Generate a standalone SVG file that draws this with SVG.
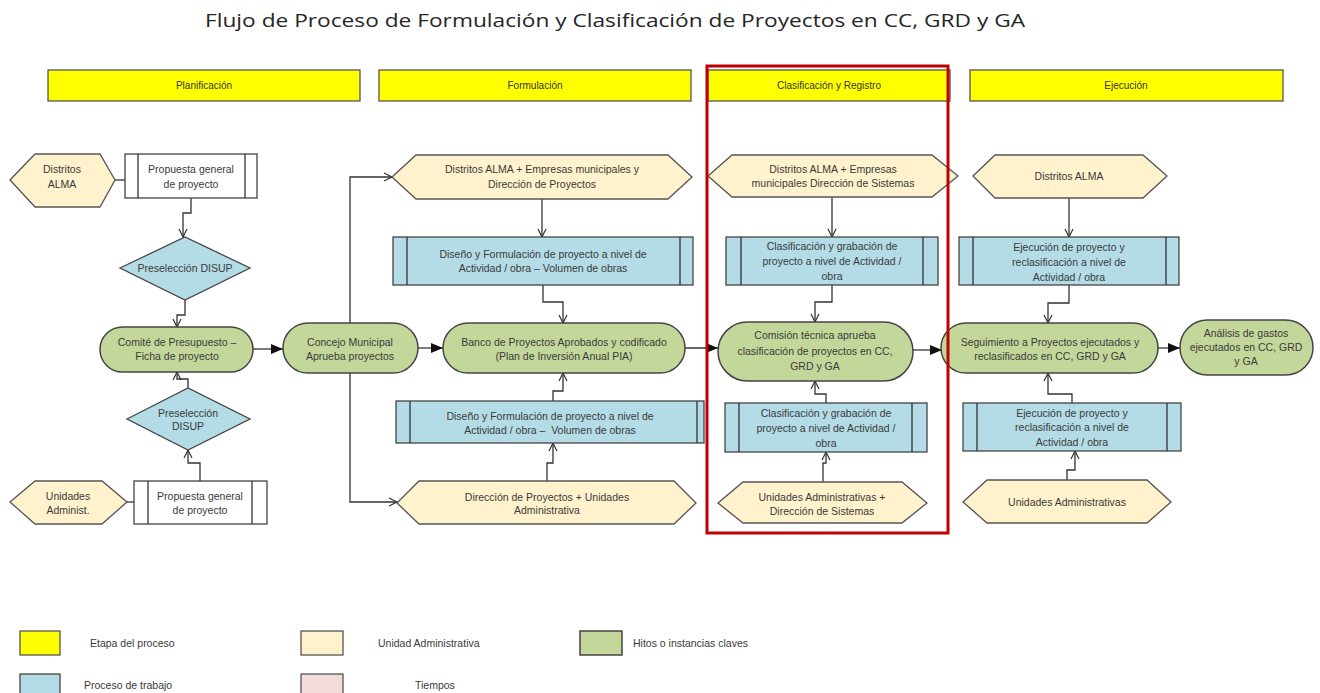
<svg xmlns="http://www.w3.org/2000/svg" width="1320" height="693" viewBox="0 0 1320 693">
<style>
text{font-family:"Liberation Sans",Arial,sans-serif;font-size:10.5px;fill:#3a3a3a;text-anchor:middle}
.title{font-family:"Open Sans","Liberation Sans",sans-serif;font-size:19px;fill:#262626}
.hdr{font-size:10px;fill:#333}
.leg{font-size:10.5px;text-anchor:start}
.stage{fill:#FFFF00;stroke:#555;stroke-width:1.3}
.unit{fill:#FFF2CC;stroke:#555;stroke-width:1.3}
.mile{fill:#C4D79B;stroke:#444;stroke-width:1.5}
.proc{fill:#B4DCE6;stroke:#444;stroke-width:1.3}
.white{fill:#fff;stroke:#444;stroke-width:1.3}
.pink{fill:#F2DCDB;stroke:#555;stroke-width:1.3}
.inner{stroke:#333;stroke-width:1.3;fill:none}
.con{fill:none;stroke:#333;stroke-width:1.3}
.o{marker-end:url(#open)}
.f{marker-end:url(#fill)}
</style>
<defs>
<marker id="open" markerWidth="12" markerHeight="12" refX="9" refY="5" orient="auto" markerUnits="userSpaceOnUse">
<path d="M1,1 L9,5 L1,9" fill="none" stroke="#333" stroke-width="1.2"/>
</marker>
<marker id="fill" markerWidth="14" markerHeight="12" refX="12" refY="5" orient="auto" markerUnits="userSpaceOnUse">
<path d="M0,0 L12,5 L0,10 z" fill="#111"/>
</marker>
</defs>
<rect width="1320" height="693" fill="#fff"/>
<text class="title" x="615" y="27" textLength="820" lengthAdjust="spacingAndGlyphs">Flujo de Proceso de Formulación y Clasificación de Proyectos en CC, GRD y GA</text>

<g id="stages">
<g id="st-plan"><rect class="stage" x="48" y="70" width="312" height="31"/><text class="hdr" x="204" y="89">Planificación</text></g>
<g id="st-form"><rect class="stage" x="379" y="70" width="312" height="31"/><text class="hdr" x="535" y="89">Formulación</text></g>
<g id="st-clas"><rect class="stage" x="708" y="70" width="242" height="31"/><text class="hdr" x="829" y="89">Clasificación y Registro</text></g>
<g id="st-ejec"><rect class="stage" x="970" y="70" width="313" height="31"/><text class="hdr" x="1126" y="89">Ejecución</text></g>
</g>

<g id="connectors">
<path class="con" d="M115,180 H125"/>
<path class="con o" d="M191,198 V213 H183 V237"/>
<path class="con o" d="M185,300 V315 H177 V327"/>
<path class="con f" d="M253,349 H283"/>
<path class="con o" d="M200,481 V463 H188 V450"/>
<path class="con o" d="M188,388 V379 H177 V372"/>
<path class="con" d="M127,502 H134"/>
<path class="con o" d="M350,323 V177 H392"/>
<path class="con o" d="M350,373 V502 H397"/>
<path class="con f" d="M418,348 H443"/>
<path class="con o" d="M542,199 V237"/>
<path class="con o" d="M543,285 V302 H563 V323"/>
<path class="con o" d="M547,481 V463 H553 V443"/>
<path class="con o" d="M553,401 V391 H563 V373"/>
<path class="con f" d="M685,348 H718"/>
<path class="con o" d="M832,197 V237"/>
<path class="con o" d="M832,285 V302 H815 V322"/>
<path class="con o" d="M826,403 V394 H815 V381"/>
<path class="con o" d="M823,482 V463 H826 V452"/>
<path class="con f" d="M913,350 H942"/>
<path class="con o" d="M1069,198 V237"/>
<path class="con o" d="M1069,285 V303 H1048 V323"/>
<path class="con o" d="M1072,403 V394 H1048 V373"/>
<path class="con o" d="M1067,480 V470 H1075 V451"/>
<path class="con f" d="M1158,348 H1180"/>
</g>

<g id="n-distritos-alma-1"><polygon class="unit" points="10,180 35,154 100,154 115,180 100,207 35,207"/><text x="62" y="173">Distritos</text><text x="62" y="188">ALMA</text></g>
<g id="n-propuesta-1"><rect class="white" x="125" y="154" width="132" height="44"/><path class="inner" d="M138,154 V198 M245,154 V198"/><text x="191" y="173">Propuesta general</text><text x="191" y="188">de proyecto</text></g>
<g id="n-preseleccion-1"><polygon class="proc" points="120,268 185,237 250,268 185,300"/><text x="185" y="272">Preselección DISUP</text></g>
<g id="n-comite"><rect class="mile" x="100" y="327" width="153" height="45" rx="22.5"/><text x="177" y="346">Comité de Presupuesto –</text><text x="177" y="360">Ficha de proyecto</text></g>
<g id="n-preseleccion-2"><polygon class="proc" points="127,419 188,388 250,419 188,450"/><text x="188" y="417">Preselección</text><text x="188" y="430">DISUP</text></g>
<g id="n-propuesta-2"><rect class="white" x="134" y="481" width="133" height="43"/><path class="inner" d="M148,481 V524 M252,481 V524"/><text x="200" y="500">Propuesta general</text><text x="200" y="514">de proyecto</text></g>
<g id="n-unidades-admin"><polygon class="unit" points="10,502 35,481 102,481 127,502 102,524 35,524"/><text x="68" y="500">Unidades</text><text x="68" y="514">Administ.</text></g>

<g id="n-concejo"><rect class="mile" x="283" y="323" width="135" height="50" rx="25"/><text x="350" y="346">Concejo Municipal</text><text x="350" y="360">Aprueba proyectos</text></g>
<g id="n-distritos-emp"><polygon class="unit" points="392,177 416,155 668,155 692,177 668,199 416,199"/><text x="542" y="173">Distritos ALMA + Empresas municipales y</text><text x="542" y="188">Dirección de Proyectos</text></g>
<g id="n-diseno-1"><rect class="proc" x="393" y="237" width="300" height="48"/><path class="inner" d="M407,237 V285 M680,237 V285"/><text x="543" y="258">Diseño y Formulación de proyecto a nivel de</text><text x="543" y="272">Actividad / obra – Volumen de obras</text></g>
<g id="n-banco"><rect class="mile" x="443" y="323" width="242" height="50" rx="25"/><text x="564" y="346">Banco de Proyectos Aprobados y codificado</text><text x="564" y="360">(Plan de Inversión Anual PIA)</text></g>
<g id="n-diseno-2"><rect class="proc" x="396" y="401" width="308" height="42"/><path class="inner" d="M410,401 V443 M697,401 V443"/><text x="550" y="420">Diseño y Formulación de proyecto a nivel de</text><text x="550" y="434" xml:space="preserve">Actividad / obra –  Volumen de obras</text></g>
<g id="n-direccion-proy"><polygon class="unit" points="397,503 419,481 674,481 696,503 674,524 419,524"/><text x="547" y="501">Dirección de Proyectos + Unidades</text><text x="547" y="514">Administrativa</text></g>

<g id="n-distritos-sis"><polygon class="unit" points="708,176 732,155 932,155 958,176 932,197 732,197"/><text x="833" y="173">Distritos ALMA + Empresas</text><text x="833" y="187">municipales Dirección de Sistemas</text></g>
<g id="n-clasif-1"><rect class="proc" x="726" y="237" width="212" height="48"/><path class="inner" d="M741,237 V285 M923,237 V285"/><text x="832" y="250">Clasificación y grabación de</text><text x="832" y="265">proyecto a nivel de Actividad /</text><text x="832" y="280">obra</text></g>
<g id="n-comision"><rect class="mile" x="718" y="322" width="195" height="59" rx="29.5"/><text x="815" y="339">Comisión técnica aprueba</text><text x="815" y="355">clasificación de proyectos en CC,</text><text x="815" y="370">GRD y GA</text></g>
<g id="n-clasif-2"><rect class="proc" x="725" y="403" width="202" height="49"/><path class="inner" d="M739,403 V452 M912,403 V452"/><text x="826" y="417">Clasificación y grabación de</text><text x="826" y="432">proyecto a nivel de Actividad /</text><text x="826" y="447">obra</text></g>
<g id="n-unidades-sis"><polygon class="unit" points="718,503 743,482 902,482 927,503 902,523 743,523"/><text x="822" y="501">Unidades Administrativas +</text><text x="822" y="515">Dirección de Sistemas</text></g>

<g id="n-distritos-alma-2"><polygon class="unit" points="973,176 995,155 1143,155 1167,176 1143,198 995,198"/><text x="1069" y="180">Distritos ALMA</text></g>
<g id="n-ejec-1"><rect class="proc" x="959" y="237" width="220" height="48"/><path class="inner" d="M973,237 V285 M1166,237 V285"/><text x="1069" y="251">Ejecución de proyecto y</text><text x="1069" y="266">reclasificación a nivel de</text><text x="1069" y="281">Actividad / obra</text></g>
<g id="n-seguimiento"><rect class="mile" x="941" y="323" width="217" height="50" rx="25"/><text x="1050" y="346">Seguimiento a Proyectos ejecutados y</text><text x="1050" y="360">reclasificados en CC, GRD y GA</text></g>
<g id="n-analisis"><rect class="mile" x="1180" y="320" width="133" height="55" rx="27.5"/><text x="1246" y="337">Análisis de gastos</text><text x="1246" y="351">ejecutados en CC, GRD</text><text x="1246" y="365">y GA</text></g>
<g id="n-ejec-2"><rect class="proc" x="963" y="403" width="218" height="48"/><path class="inner" d="M977,403 V451 M1167,403 V451"/><text x="1072" y="417">Ejecución de proyecto y</text><text x="1072" y="431">reclasificación a nivel de</text><text x="1072" y="446">Actividad / obra</text></g>
<g id="n-unidades-adm"><polygon class="unit" points="963,502 987,480 1147,480 1171,502 1147,523 987,523"/><text x="1067" y="506">Unidades Administrativas</text></g>

<rect id="highlight" x="707" y="66" width="241" height="467" fill="none" stroke="#C00000" stroke-width="3"/>

<g id="legend">
<rect class="stage" x="20" y="631" width="40" height="24"/><text class="leg" x="90" y="647">Etapa del proceso</text>
<rect class="unit" x="301" y="631" width="42" height="24"/><text class="leg" x="378" y="647">Unidad Administrativa</text>
<rect class="mile" x="580" y="631" width="42" height="24"/><text class="leg" x="633" y="647">Hitos o instancias claves</text>
<rect class="proc" x="20" y="674" width="40" height="24"/><text class="leg" x="84" y="689">Proceso de trabajo</text>
<rect class="pink" x="301" y="674" width="42" height="24"/><text class="leg" x="415" y="689">Tiempos</text>
</g>
</svg>
